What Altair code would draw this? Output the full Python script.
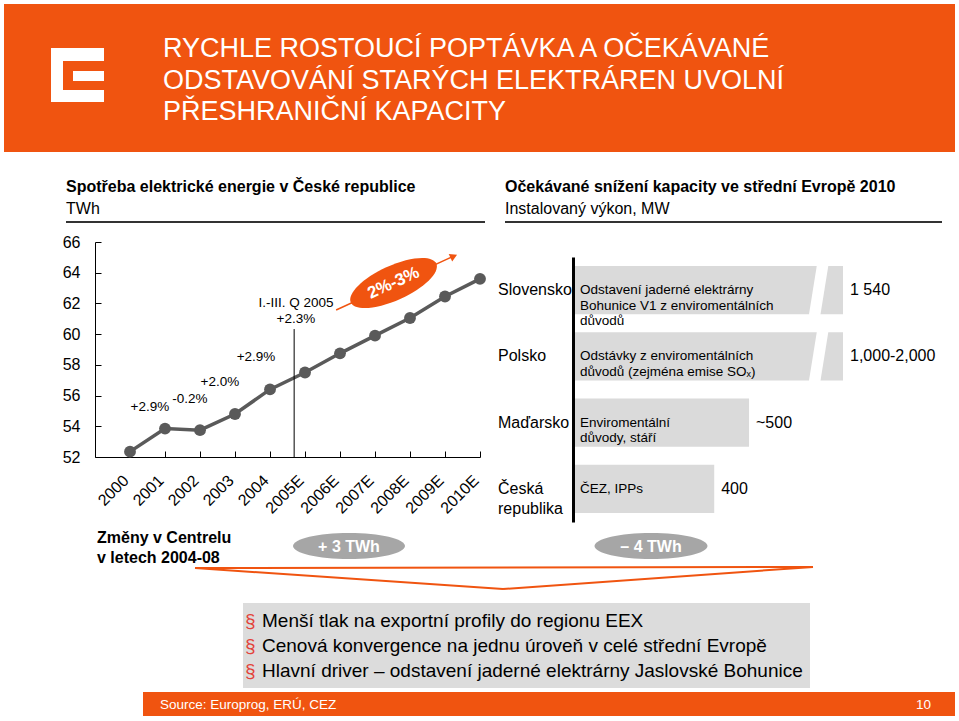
import altair as alt
import pandas as pd

# ---------------- data ----------------
years = [2000, 2001, 2002, 2003, 2004, 2005, 2006, 2007, 2008, 2009, 2010]
consumption_twh = [52.35, 53.85, 53.75, 54.8, 56.4, 57.5, 58.75, 59.9, 61.05, 62.45, 63.6]
y_ticks = [52, 54, 56, 58, 60, 62, 64, 66]

countries = ["Slovensko", "Polsko", "Maďarsko", "Česká republika"]
country_labels = ["Slovensko", "Polsko", "Maďarsko", "Česká\nrepublika"]
capacity_mw = [1540, 2000, 500, 400]
capacity_labels = ["1 540", "1,000-2,000", "~500", "400"]
reasons = [
    "Odstavení jaderné elektrárny\nBohunice V1 z enviromentálních\ndůvodů",
    "Odstávky z enviromentálních\ndůvodů (zejména emise SOₓ)",
    "Enviromentální\ndůvody, stáří",
    "ČEZ, IPPs",
]
broken_bars = ["Slovensko", "Polsko"]

title_lines = [
    "RYCHLE ROSTOUCÍ POPTÁVKA A OČEKÁVANÉ",
    "ODSTAVOVÁNÍ STARÝCH ELEKTRÁREN UVOLNÍ",
    "PŘESHRANIČNÍ KAPACITY",
]
bullets = [
    "Menší tlak na exportní profily do regionu EEX",
    "Cenová konvergence na jednu úroveň v celé střední Evropě",
    "Hlavní driver – odstavení jaderné elektrárny Jaslovské Bohunice",
]

df_line = pd.DataFrame({"year": years, "twh": consumption_twh})
df_bar = pd.DataFrame({
    "country": countries,
    "country_label": country_labels,
    "mw": capacity_mw,
    "value_label": capacity_labels,
    "reason": reasons,
})

# ---------------- styles ----------------
W, H = 959, 721
FONT = "Liberation Sans, Arial, sans-serif"
ORANGE = "#f05410"
LINE_GRAY = "#5a5a5a"
BAR_GRAY = "#dadada"
ELL_GRAY = "#a6a6a6"
BOX_GRAY = "#dcdcdc"
one = alt.Data(values=[{"k": 0}])


def ellipse_path(ry):
    return f"M -1 0 A 1 {ry} 0 1 1 1 0 A 1 {ry} 0 1 1 -1 0 Z"


def rect(x, x2, y, y2, color):
    return alt.Chart(one).mark_rect(color=color).encode(
        x=alt.value(x), x2=alt.value(x2), y=alt.value(y), y2=alt.value(y2))


def rule(x, y, x2, y2, color, width):
    return alt.Chart(one).mark_rule(color=color, strokeWidth=width).encode(
        x=alt.value(x), y=alt.value(y), x2=alt.value(x2), y2=alt.value(y2))


def text(t, x, y, size, color="black", weight="normal", align="left",
         baseline="alphabetic", angle=0):
    return alt.Chart(one).mark_text(
        text=t, fontSize=size, color=color, fontWeight=weight, align=align,
        baseline=baseline, font=FONT, angle=angle).encode(
        x=alt.value(x), y=alt.value(y))


def gray_ellipse(cx, cy, w, h, label):
    e = alt.Chart(one).mark_point(
        shape=ellipse_path(h / w), filled=True, color=ELL_GRAY, opacity=1,
        size=w * w, strokeWidth=0).encode(x=alt.value(cx), y=alt.value(cy))
    t = text(label, cx, cy + 1, 16, color="white", weight="bold",
             align="center", baseline="middle")
    return [e, t]


layers = []

# header banner and logo
layers.append(rect(4, 955, 4, 152, ORANGE))
layers += [
    rect(51, 63, 48, 102, "white"),
    rect(51, 104, 48, 61, "white"),
    rect(51, 104, 90, 102, "white"),
    rect(73, 104, 71, 81, "white"),
]
for i, line in enumerate(title_lines):
    layers.append(text(line, 163, 57 + i * 31.5, 27, color="white"))

# section headings
layers += [
    text("Spotřeba elektrické energie v České republice", 66, 192, 16, weight="bold"),
    text("TWh", 66, 214, 16),
    rule(66, 222, 485, 222, "#333333", 2),
    text("Očekávané snížení kapacity ve střední Evropě 2010", 505, 192, 16, weight="bold"),
    text("Instalovaný výkon, MW", 505, 214, 16),
    rule(505, 222, 942, 222, "#333333", 2),
]

# ---------------- line chart ----------------
xs = alt.Scale(domain=[1999, 2010], range=[95, 480], nice=False, zero=False)
ys = alt.Scale(domain=[52, 66], range=[457, 242], nice=False, zero=False)

line = alt.Chart(df_line).mark_line(color=LINE_GRAY, strokeWidth=3.5).encode(
    x=alt.X("year:Q", scale=xs, axis=alt.Axis(
        orient="bottom", offset=-(H - 457), values=years,
        labelExpr="datum.value >= 2005 ? datum.value + 'E' : '' + datum.value",
        labelAngle=315, labelFontSize=16, labelFont=FONT, labelColor="black",
        ticks=False, domainColor="black", domainWidth=1, grid=False,
        title=None, labelPadding=15, labelOffset=-10, labelOverlap=False)),
    y=alt.Y("twh:Q", scale=ys, axis=alt.Axis(
        orient="left", offset=-95, values=y_ticks, labelFontSize=16,
        labelFont=FONT, labelColor="black", ticks=False, domainColor="black",
        domainWidth=1, grid=False, title=None, labelPadding=15)),
)
points = alt.Chart(df_line).mark_circle(size=140, color=LINE_GRAY, opacity=1).encode(
    x=alt.X("year:Q", scale=xs, axis=alt.Axis(
        orient="top", offset=-457, values=years, labels=False, domain=False,
        ticks=True, tickSize=6, tickColor="black", grid=False, title=None)),
    y=alt.Y("twh:Q", scale=ys, axis=alt.Axis(
        orient="right", offset=-(W - 95), values=y_ticks, labels=False,
        domain=False, ticks=True, tickSize=6, tickColor="black", grid=False,
        title=None)),
)
layers += [line, points]


def ann_text(t, xv, yv, size=13.5, **kw):
    return alt.Chart(one).mark_text(text=t, fontSize=size, font=FONT,
                                    baseline="middle", **kw).encode(
        x=alt.XDatum(xv, scale=xs, axis=None),
        y=alt.YDatum(yv, scale=ys, axis=None))


layers.append(alt.Chart(one).mark_rule(color="black", strokeWidth=1).encode(
    x=alt.XDatum(2004.69, scale=xs, axis=None),
    y=alt.YDatum(52, scale=ys, axis=None),
    y2=alt.Y2Datum(60.33)))
layers += [
    ann_text("+2.9%", 2000.57, 55.26),
    ann_text("-0.2%", 2001.71, 55.75),
    ann_text("+2.0%", 2002.57, 56.9),
    ann_text("+2.9%", 2003.6, 58.49),
    ann_text("I.-III. Q 2005", 2004.74, 62.05),
    ann_text("+2.3%", 2004.74, 60.96),
]
# growth trend arrow + ellipse
layers.append(alt.Chart(one).mark_rule(color=ORANGE, strokeWidth=1.5).encode(
    x=alt.XDatum(2005.89, scale=xs, axis=None),
    y=alt.YDatum(61.57, scale=ys, axis=None),
    x2=alt.X2Datum(2009.2), y2=alt.Y2Datum(65.03)))
layers.append(alt.Chart(one).mark_point(
    shape="triangle-right", filled=True, color=ORANGE, opacity=1, size=70,
    angle=335.5, strokeWidth=0).encode(
    x=alt.XDatum(2009.25, scale=xs, axis=None),
    y=alt.YDatum(65.07, scale=ys, axis=None)))
layers.append(alt.Chart(one).mark_point(
    shape=ellipse_path(0.37), filled=True, color=ORANGE, opacity=1,
    size=94 * 94, angle=335.5, strokeWidth=0).encode(
    x=alt.XDatum(2007.53, scale=xs, axis=None),
    y=alt.YDatum(63.33, scale=ys, axis=None)))
layers.append(ann_text("2%-3%", 2007.53, 63.33, size=17, color="white",
                       fontWeight="bold", angle=335.5, align="center"))

# ---------------- bar chart ----------------
bx = alt.Scale(domain=[0, 770], range=[575, 843], clamp=True, nice=False)
by = alt.Scale(domain=countries, range=[257, 522], paddingInner=0.275,
               paddingOuter=0.1375)

bars = alt.Chart(df_bar).mark_bar(color=BAR_GRAY).encode(
    x=alt.X("mw:Q", scale=bx, axis=None),
    y=alt.Y("country:N", scale=by, sort=countries, axis=alt.Axis(
        orient="left", offset=-573, labels=False, ticks=False,
        domainColor="black", domainWidth=3, grid=False, title=None)),
)
breaks = alt.Chart(df_bar).transform_filter(
    alt.FieldOneOfPredicate(field="country", oneOf=broken_bars)
).mark_point(
    shape="M -0.42 1.12 L 0.06 1.12 L 0.42 -1.12 L -0.06 -1.12 Z",
    filled=True, color="white", opacity=1, size=48 * 48, strokeWidth=0).encode(
    x=alt.XDatum(700, scale=bx, axis=None),
    y=alt.Y("country:N", scale=by, sort=countries, axis=None))
country_txt = alt.Chart(df_bar).mark_text(
    align="left", baseline="middle", fontSize=16, font=FONT, lineBreak="\n",
    lineHeight=20).encode(
    x=alt.value(498),
    y=alt.Y("country:N", scale=by, sort=countries, axis=None),
    text="country_label:N")
reason_txt = alt.Chart(df_bar).mark_text(
    align="left", baseline="middle", fontSize=13.5, font=FONT, lineBreak="\n",
    lineHeight=15.5).encode(
    x=alt.value(580),
    y=alt.Y("country:N", scale=by, sort=countries, axis=None),
    text="reason:N")
value_txt = alt.Chart(df_bar).mark_text(
    align="left", baseline="middle", fontSize=16, font=FONT, dx=7).encode(
    x=alt.X("mw:Q", scale=bx, axis=None),
    y=alt.Y("country:N", scale=by, sort=countries, axis=None),
    text="value_label:N")
layers += [bars, breaks, country_txt, reason_txt, value_txt]

# ---------------- lower part ----------------
layers += [
    text("Změny v Centrelu", 97, 543, 16, weight="bold"),
    text("v letech 2004-08", 97, 563, 16, weight="bold"),
]
layers += gray_ellipse(349, 546, 112, 26, "+ 3 TWh")
layers += gray_ellipse(651, 546, 113, 26, "– 4 TWh")
layers += [
    rule(195, 568, 813, 567, ORANGE, 2),
    rule(195, 568, 503, 589, ORANGE, 2),
    rule(503, 589, 813, 567, ORANGE, 2),
]
layers.append(rect(243, 810, 603, 688, BOX_GRAY))
for i, b in enumerate(bullets):
    yb = 627 + i * 25
    layers.append(text("§", 245, yb, 19, color="#e3423a"))
    layers.append(text(b, 262, yb, 19))

# footer
layers += [
    rect(143, 955, 692, 716, ORANGE),
    text("Source: Europrog, ERÚ, CEZ", 160, 709, 13.5, color="white"),
    text("10", 931, 709, 13.5, color="white", align="right"),
]

chart = alt.layer(*layers).resolve_scale(
    x="independent", y="independent"
).properties(
    width=W, height=H, autosize=alt.AutoSizeParams(type="none"), padding=0,
    background="white",
).configure_view(stroke=None)

chart.save("out.html", embed_options={"renderer": "svg", "actions": False})
